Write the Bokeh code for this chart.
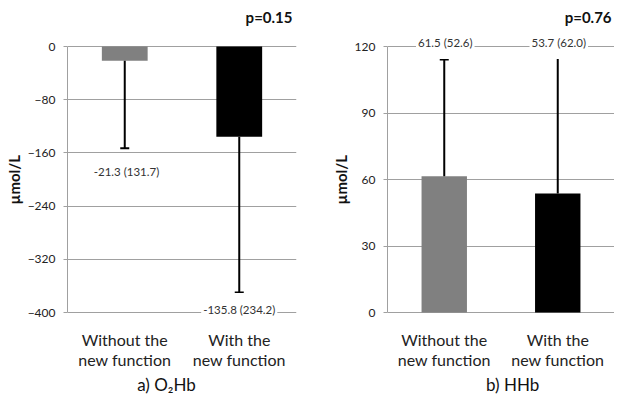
from bokeh.plotting import figure
from bokeh.layouts import row
from bokeh.models import Range1d, FactorRange, FixedTicker, Label, Title
from bokeh.core.properties import value
from bokeh.embed import file_html
from bokeh.resources import INLINE

# ---- data ----
categories = ["Without the\nnew function", "With the\nnew function"]
o2hb_mean = [-21.3, -135.8]
o2hb_sd = [131.7, 234.2]
hhb_mean = [61.5, 53.7]
hhb_sd = [52.6, 62.0]
o2hb_ticks = [-400, -320, -240, -160, -80, 0]
hhb_ticks = [0, 30, 60, 90, 120]
p_values = ["p=0.15", "p=0.76"]
panel_titles = ["a) O\u2082Hb", "b) HHb"]
bar_colors = ["#808080", "#000000"]
y_label = "\u00b5mol/L"

FONT = "Lato"
GRID = "#a0a0a0"

FIG_H = 395          # figure height (frame spans it fully)
AXIS_TOP = 46        # px from figure top to the top tick
AXIS_LEN = 266       # px length of the value axis


def make_panel(means, sds, ticks, frame_w, bl, br, pval, pval_pos, title, title_pos,
               val_pos, cat_offset_px):
    lo, hi = min(ticks), max(ticks)
    ppu = AXIS_LEN / (hi - lo)
    y_max = hi + AXIS_TOP / ppu
    y_min = lo - (FIG_H - AXIS_TOP - AXIS_LEN) / ppu

    def px_below_top(px):
        return hi - px / ppu

    p = figure(x_range=FactorRange(*categories), y_range=Range1d(y_min, y_max),
               frame_width=frame_w, frame_height=FIG_H,
               min_border_left=bl, min_border_right=br, min_border_top=0, min_border_bottom=0,
               output_backend="svg", toolbar_location=None)
    p.outline_line_color = None
    p.background_fill_color = "white"
    p.border_fill_color = "white"
    p.xgrid.grid_line_color = None
    p.ygrid.ticker = FixedTicker(ticks=ticks)
    p.ygrid.grid_line_color = GRID
    p.ygrid.grid_line_width = 1
    p.xaxis.visible = False

    ya = p.yaxis[0]
    ya.ticker = FixedTicker(ticks=ticks)
    ya.bounds = (lo, hi)
    ya.axis_line_color = GRID
    ya.major_tick_line_color = GRID
    ya.major_tick_out = 4
    ya.major_tick_in = 0
    ya.minor_tick_line_color = None
    ya.major_label_standoff = 8
    ya.major_label_text_font = FONT
    ya.major_label_text_font_size = "12px"
    ya.major_label_text_color = "#222222"

    # y-axis title (placed in the left side panel)
    p.add_layout(Title(text=y_label, align="left", offset=FIG_H - 204,
                       vertical_align="bottom", standoff=4,
                       text_font=FONT, text_font_size="15px", text_font_style="bold",
                       text_color="#111111"), "left")

    err_end = [m - s if m < 0 else m + s for m, s in zip(means, sds)]
    p.vbar(x=categories, top=means, bottom=0, width=0.4, fill_color=bar_colors,
           line_color=None)
    p.segment(x0=categories, y0=means, x1=categories, y1=err_end, line_color="black", line_width=2)
    p.scatter(x=categories, y=err_end, marker="dash", size=9, line_color="black", line_width=2)

    # category labels
    cy = px_below_top(cat_offset_px)
    p.text(x=categories, y=[cy] * len(categories), text=categories,
           text_font=value(FONT), text_font_size="16px", text_color="#222222",
           text_align="center", text_baseline="middle", text_line_height=1.1)

    # value labels
    for i, (m, s) in enumerate(zip(means, sds)):
        vx, vpx = val_pos[i]
        p.add_layout(Label(x=vx, y=px_below_top(vpx), text=f"{m:.1f} ({s:.1f})",
                           text_font=FONT, text_font_size="11.5px", text_color="#333333",
                           text_align="center", text_baseline="middle",
                           background_fill_color="white", padding=[2, 10]))
    # p value
    p.add_layout(Label(x=pval_pos[0], y=px_below_top(pval_pos[1]), text=pval,
                       text_font=FONT, text_font_size="15px", text_font_style="bold",
                       text_color="#111111", text_align="right", text_baseline="middle"))
    # panel title
    p.add_layout(Label(x=title_pos[0], y=px_below_top(title_pos[1]), text=title,
                       text_font=FONT, text_font_size="17px", text_color="#111111",
                       text_align="center", text_baseline="middle"))
    return p


p1 = make_panel(o2hb_mean, o2hb_sd, o2hb_ticks, 229, 60, 16,
                p_values[0], (1.965, -30), panel_titles[0], (0.865, 338),
                [(0.515, 125), (1.5, 263)], 303)
p2 = make_panel(hhb_mean, hhb_sd, hhb_ticks, 227, 75, 0,
                p_values[1], (1.974, -30), panel_titles[1], (1.103, 338),
                [(0.509, -4), (1.509, -4)], 303)

layout = row(p1, p2)
open("out.html", "w").write(file_html(layout, INLINE))
